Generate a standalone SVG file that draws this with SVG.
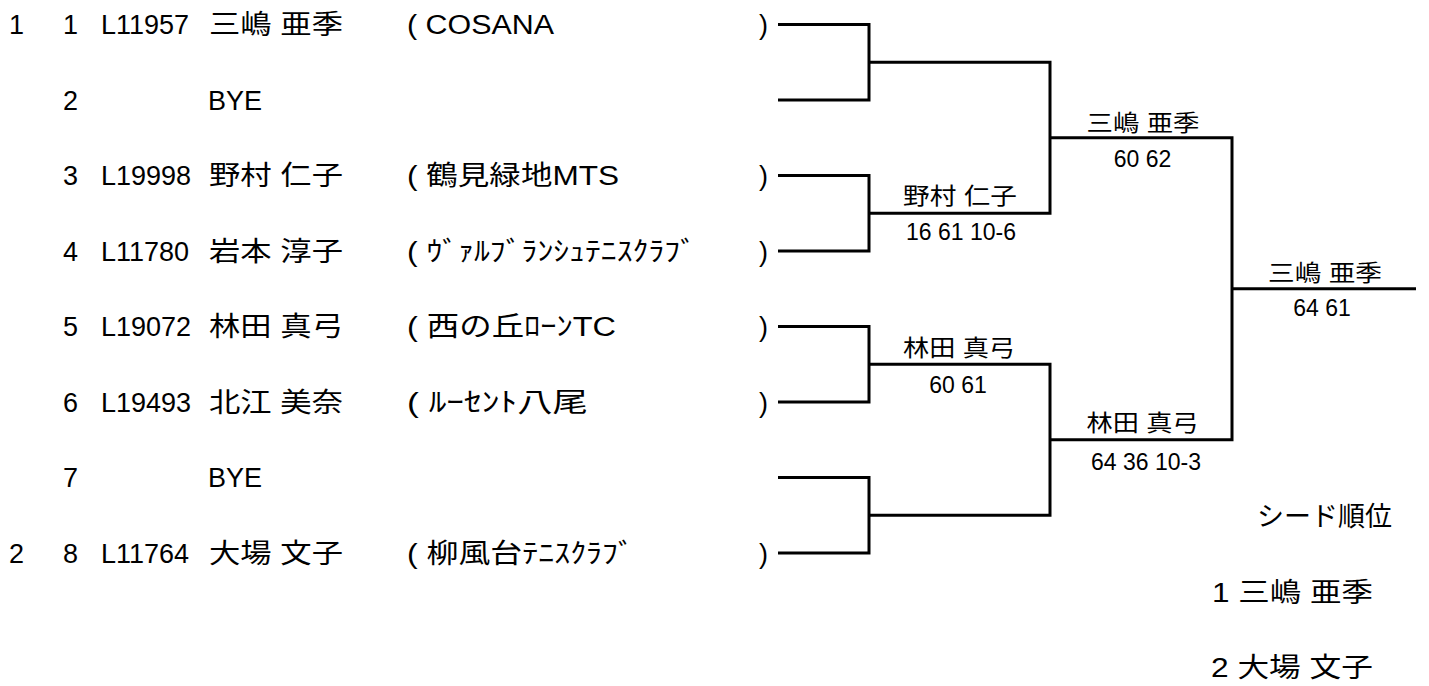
<svg xmlns="http://www.w3.org/2000/svg" width="1429" height="686" viewBox="0 0 1429 686">
<style>
text{font-family:"Liberation Sans","Noto Sans CJK JP",sans-serif;fill:#000}
.r{font-size:27px}
.s{font-size:23px;text-anchor:middle}
.c{fill:none;stroke:#000;stroke-width:3;stroke-linejoin:miter}
</style>
<rect width="1429" height="686" fill="#fff"/>
<g id="entry1" class="r">
<text x="9" y="34">1</text><text x="63" y="34">1</text><text x="101" y="34">L11957</text>
<text x="209" y="34" textLength="134" lengthAdjust="spacingAndGlyphs">三嶋 亜季</text>
<text x="407" y="34" textLength="147" lengthAdjust="spacingAndGlyphs">( COSANA</text><text x="759" y="34">)</text>
</g>
<g id="entry2" class="r">
<text x="63" y="109.5">2</text><text x="208" y="109.5">BYE</text>
</g>
<g id="entry3" class="r">
<text x="63" y="185">3</text><text x="101" y="185">L19998</text>
<text x="209" y="185" textLength="134" lengthAdjust="spacingAndGlyphs">野村 仁子</text>
<text x="407" y="185" textLength="212" lengthAdjust="spacingAndGlyphs">( 鶴見緑地MTS</text><text x="759" y="185">)</text>
</g>
<g id="entry4" class="r">
<text x="63" y="260.5">4</text><text x="101" y="260.5">L11780</text>
<text x="209" y="260.5" textLength="134" lengthAdjust="spacingAndGlyphs">岩本 淳子</text>
<text x="407" y="260.5" textLength="289" lengthAdjust="spacingAndGlyphs">( ｳﾞｧﾙﾌﾞﾗﾝｼｭﾃﾆｽｸﾗﾌﾞ</text><text x="759" y="260.5">)</text>
</g>
<g id="entry5" class="r">
<text x="63" y="336">5</text><text x="101" y="336">L19072</text>
<text x="209" y="336" textLength="134" lengthAdjust="spacingAndGlyphs">林田 真弓</text>
<text x="407" y="336" textLength="209" lengthAdjust="spacingAndGlyphs">( 西の丘ﾛｰﾝTC</text><text x="759" y="336">)</text>
</g>
<g id="entry6" class="r">
<text x="63" y="411.5">6</text><text x="101" y="411.5">L19493</text>
<text x="209" y="411.5" textLength="134" lengthAdjust="spacingAndGlyphs">北江 美奈</text>
<text x="407" y="411.5" textLength="181" lengthAdjust="spacingAndGlyphs">( ﾙｰｾﾝﾄ八尾</text><text x="759" y="411.5">)</text>
</g>
<g id="entry7" class="r">
<text x="63" y="487">7</text><text x="208" y="487">BYE</text>
</g>
<g id="entry8" class="r">
<text x="9" y="562.5">2</text><text x="63" y="562.5">8</text><text x="101" y="562.5">L11764</text>
<text x="209" y="562.5" textLength="134" lengthAdjust="spacingAndGlyphs">大場 文子</text>
<text x="407" y="562.5" textLength="227" lengthAdjust="spacingAndGlyphs">( 柳風台ﾃﾆｽｸﾗﾌﾞ</text><text x="759" y="562.5">)</text>
</g>
<g id="connectors">
<path class="c" d="M778,24.5 H869 V100 H778"/>
<path class="c" d="M778,175.5 H869 V251 H778"/>
<path class="c" d="M778,326.5 H869 V402 H778"/>
<path class="c" d="M778,477.5 H869 V553 H778"/>
<path class="c" d="M869,62.25 H1050 V213.25 H869"/>
<path class="c" d="M869,364.25 H1050 V515.25 H869"/>
<path class="c" d="M1050,137.75 H1232 V439.75 H1050"/>
<path class="c" d="M1232,288.75 H1416"/>
</g>
<g id="match-r1-2">
<text class="s" x="960" y="204" textLength="114" lengthAdjust="spacingAndGlyphs">野村 仁子</text>
<text class="s" x="961" y="240">16 61 10-6</text>
</g>
<g id="match-r1-3">
<text class="s" x="959" y="356" textLength="112" lengthAdjust="spacingAndGlyphs">林田 真弓</text>
<text class="s" x="958" y="393">60 61</text>
</g>
<g id="match-r2-1">
<text class="s" x="1143" y="131" textLength="113" lengthAdjust="spacingAndGlyphs">三嶋 亜季</text>
<text class="s" x="1142.5" y="167">60 62</text>
</g>
<g id="match-r2-2">
<text class="s" x="1142.5" y="431" textLength="112" lengthAdjust="spacingAndGlyphs">林田 真弓</text>
<text class="s" x="1146" y="470">64 36 10-3</text>
</g>
<g id="match-final">
<text class="s" x="1325" y="281" textLength="114" lengthAdjust="spacingAndGlyphs">三嶋 亜季</text>
<text class="s" x="1322" y="316">64 61</text>
</g>
<g id="seeds" class="r">
<text x="1257" y="526" textLength="135" lengthAdjust="spacingAndGlyphs">シード順位</text>
<text x="1212" y="602" textLength="161" lengthAdjust="spacingAndGlyphs">1 三嶋 亜季</text>
<text x="1211" y="677" textLength="162" lengthAdjust="spacingAndGlyphs">2 大場 文子</text>
</g>
</svg>
